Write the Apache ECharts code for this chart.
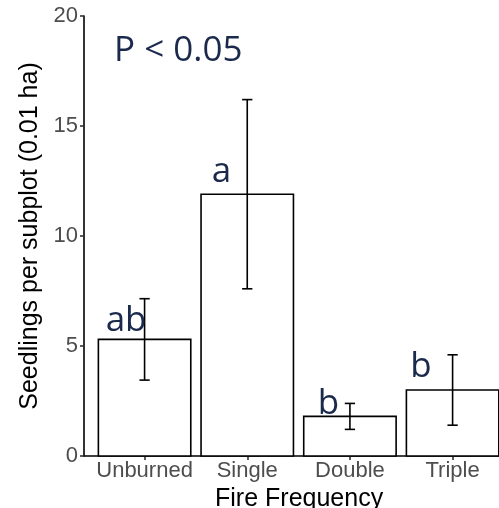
<!DOCTYPE html>
<html>
<head>
<meta charset="utf-8">
<script src="https://cdn.jsdelivr.net/npm/echarts@6/dist/echarts.min.js"></script>
<style>html,body{margin:0;padding:0;background:#fff;}#c{width:499px;height:508px;}</style>
</head>
<body>
<div id="c"></div>
<script>
// ---- data ----
const categories = ['Unburned', 'Single', 'Double', 'Triple'];
const means = [5.3, 11.9, 1.8, 3.0];
const errors = [1.85, 4.3, 0.59, 1.6];
const letters = ['ab', 'a', 'b', 'b'];
const letterX = [0.82, 1.748, 2.792, 3.693];
const letterY = [5.32, 12.1, 1.55, 3.27];
const yTicks = [0, 5, 10, 15, 20];
const pText = 'P < 0.05';

const catPos = categories.map((c, i) => i + 1);
const barData = catPos.map((x, i) => [x, means[i]]);
const errData = catPos.map((x, i) => [x, means[i] - errors[i], means[i] + errors[i]]);
const letterData = letters.map((t, i) => [letterX[i], letterY[i], t]);

const chart = echarts.init(document.getElementById('c'), null, {renderer: 'canvas'});
const navy = '#1b2a4c';
const option = {
  animation: false,
  backgroundColor: '#ffffff',
  title: {
    text: pText, left: 109, top: 29,
    textStyle: {fontFamily: 'Open Sans', fontSize: 35, fontWeight: 'normal', color: navy}
  },
  grid: {left: 84, top: 16, width: 430.2, height: 440, containLabel: false, outerBoundsMode: 'none'},
  xAxis: {
    type: 'value', min: 0.41, max: 4.6,
    axisLine: {show: true, onZero: false, lineStyle: {color: '#000', width: 1.6}},
    axisTick: {show: true, customValues: catPos, length: 4, lineStyle: {color: '#333', width: 1.6}},
    axisLabel: {
      customValues: catPos, margin: 4,
      formatter: v => categories[Math.round(v) - 1] || '',
      color: '#4d4d4d', fontFamily: 'Liberation Sans', fontSize: 22
    },
    splitLine: {show: false},
    name: 'Fire Frequency', nameLocation: 'middle', nameGap: 31,
    nameTextStyle: {color: '#000', fontFamily: 'Liberation Sans', fontSize: 25}
  },
  yAxis: {
    type: 'value', min: 0, max: 20, interval: 5,
    axisLine: {show: true, lineStyle: {color: '#000', width: 1.6}},
    axisTick: {show: true, length: 4, lineStyle: {color: '#333', width: 1.6}},
    axisLabel: {
      customValues: yTicks, margin: 6,
      color: '#4d4d4d', fontFamily: 'Liberation Sans', fontSize: 22
    },
    splitLine: {show: false},
    name: 'Seedlings per subplot (0.01 ha)', nameLocation: 'middle', nameGap: 38,
    nameTextStyle: {color: '#000', fontFamily: 'Liberation Sans', fontSize: 25}
  },
  series: [
    {
      type: 'custom',
      data: barData,
      clip: false,
      renderItem: function (params, api) {
        const x = api.value(0), y = api.value(1);
        const p1 = api.coord([x - 0.45, y]);
        const p2 = api.coord([x + 0.45, 0]);
        return {
          type: 'rect',
          shape: {x: p1[0], y: p1[1], width: p2[0] - p1[0], height: p2[1] - p1[1]},
          style: {fill: '#ffffff', stroke: '#000', lineWidth: 1.6}
        };
      }
    },
    {
      type: 'custom',
      data: errData,
      clip: false,
      z: 3,
      renderItem: function (params, api) {
        const x = api.value(0), lo = api.value(1), hi = api.value(2);
        const pLo = api.coord([x, lo]), pHi = api.coord([x, hi]);
        const half = api.size([0.05, 0])[0];
        const st = {stroke: '#000', lineWidth: 1.6};
        return {
          type: 'group',
          children: [
            {type: 'line', shape: {x1: pLo[0], y1: pLo[1], x2: pHi[0], y2: pHi[1]}, style: st},
            {type: 'line', shape: {x1: pHi[0] - half, y1: pHi[1], x2: pHi[0] + half, y2: pHi[1]}, style: st},
            {type: 'line', shape: {x1: pLo[0] - half, y1: pLo[1], x2: pLo[0] + half, y2: pLo[1]}, style: st}
          ]
        };
      }
    },
    {
      type: 'custom',
      data: letterData,
      clip: false,
      z: 4,
      renderItem: function (params, api) {
        const p = api.coord([api.value(0), api.value(1)]);
        return {
          type: 'text',
          style: {
            text: letters[params.dataIndex], x: p[0], y: p[1],
            align: 'center', verticalAlign: 'bottom',
            fontFamily: 'Open Sans', fontSize: 35, fill: navy
          }
        };
      }
    }
  ]
};
chart.setOption(option);
</script>
</body>
</html>
